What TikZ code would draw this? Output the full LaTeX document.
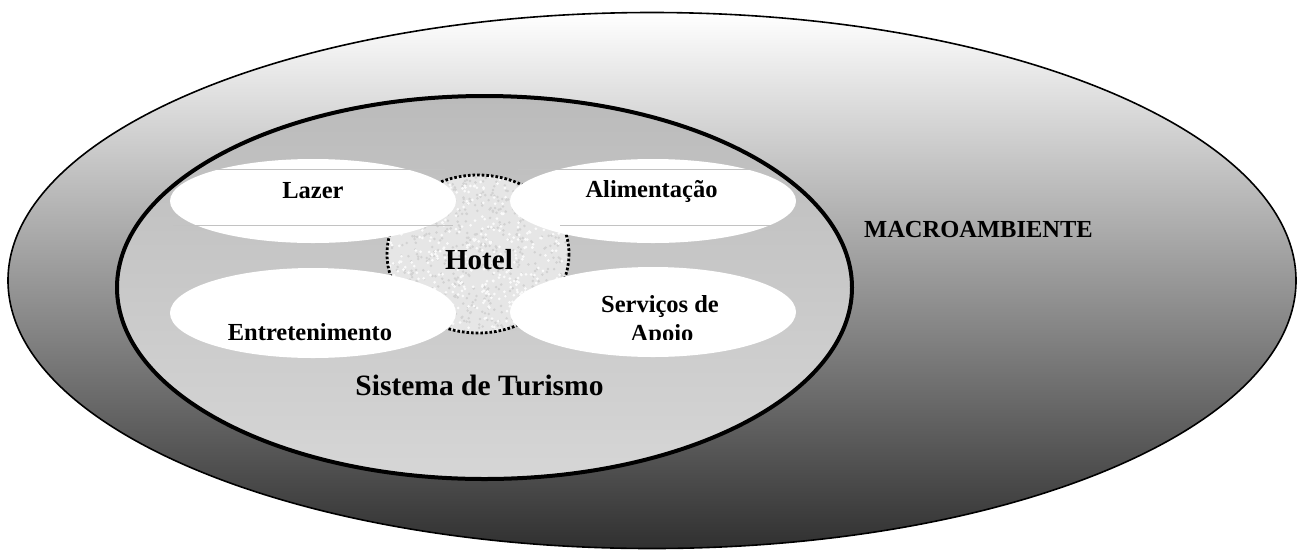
\documentclass[tikz,border=0pt]{standalone}
\usepackage{fontspec}
\setmainfont{Liberation Serif}
\usetikzlibrary{shapes.geometric}
\definecolor{outerbot}{HTML}{303030}
\definecolor{innertop}{HTML}{BBBBBB}
\definecolor{innerbot}{HTML}{D6D6D6}
\definecolor{hotelfill}{HTML}{E6E6E6}
\definecolor{hotelspeck}{HTML}{D2D2D2}
\definecolor{rulegray}{HTML}{C2C2C2}
\begin{document}
\begin{tikzpicture}[x=1pt,y=-1pt,
  oval/.style={ellipse, inner sep=0pt, outer sep=0pt},
  subbox/.style={oval, fill=white, minimum width=286pt, minimum height=84pt},
  lbl/.style={font=\bfseries\fontsize{24.5}{28}\selectfont, inner sep=0pt, anchor=base},
  biglbl/.style={font=\bfseries\fontsize{29.5}{34}\selectfont, inner sep=0pt, anchor=base},
  hotelborder/.style={draw=black, line width=2.8pt, dash pattern=on 2.6pt off 2pt},
  thinrule/.style={draw=rulegray, line width=0.9pt}]
\useasboundingbox[fill=white] (0,0) rectangle (1304,550);
% macro environment
\node[oval, draw=black, line width=1.6pt, top color=white, bottom color=outerbot,
      minimum width=1288pt, minimum height=536pt] (macro) at (652,280.5) {};
% tourism system
\node[oval, draw=black, line width=4pt, top color=innertop, bottom color=innerbot,
      minimum width=735pt, minimum height=383pt] (sist) at (484.5,287.5) {};
% hotel
\node[oval, fill=hotelfill, minimum width=182pt, minimum height=158pt] (hotel) at (478,254) {};
\begin{scope}
  \clip (478,254) ellipse [x radius=91, y radius=79];
  \pgfmathsetseed{7}
  \foreach \i in {1,...,600}{
    \pgfmathsetmacro\px{387+182*rnd}
    \pgfmathsetmacro\py{175+158*rnd}
    \fill[hotelspeck] (\px,\py) circle[radius=1.4pt];
  }
  \foreach \i in {1,...,450}{
    \pgfmathsetmacro\px{387+182*rnd}
    \pgfmathsetmacro\py{175+158*rnd}
    \fill[white!96!gray] (\px,\py) circle[radius=1.5pt];
  }
\end{scope}
\draw[hotelborder] (hotel.center) ellipse [x radius=91, y radius=79];
% four sub-systems
\node[subbox] (lazerbox) at (313,201) {};
\node[subbox] (alimbox) at (653,201) {};
\node[subbox, minimum height=90pt] (entbox) at (313,313) {};
\node[subbox, minimum height=90pt] (svcbox) at (653,312) {};
% thin text-box rules
\draw[thinrule] (200,169) -- (445,169);
\draw[thinrule] (173,225) -- (453,225);
\draw[thinrule] (518,169) -- (762,169);
\draw[thinrule] (560,225) -- (772,225);
% labels
\node[lbl] (lazer) at (313,198) {Lazer};
\node[lbl] (alim) at (651.5,197) {Alimentação};
\node[lbl] (ent) at (310,340) {Entretenimento};
\node[biglbl, font=\bfseries\fontsize{29}{34}\selectfont] (hoteltxt) at (479,269) {Hotel};
\node[lbl] (svc) at (660,312) {Serviços de};
\begin{scope}
  \clip (560,300) rectangle (760,339.5);
  \node[lbl] (apoio) at (662,341) {Apoio};
\end{scope}
\node[biglbl] (sisttxt) at (479.5,395) {Sistema de Turismo};
\node[lbl] (macrotxt) at (978.5,237) {MACROAMBIENTE};
\end{tikzpicture}
\end{document}
